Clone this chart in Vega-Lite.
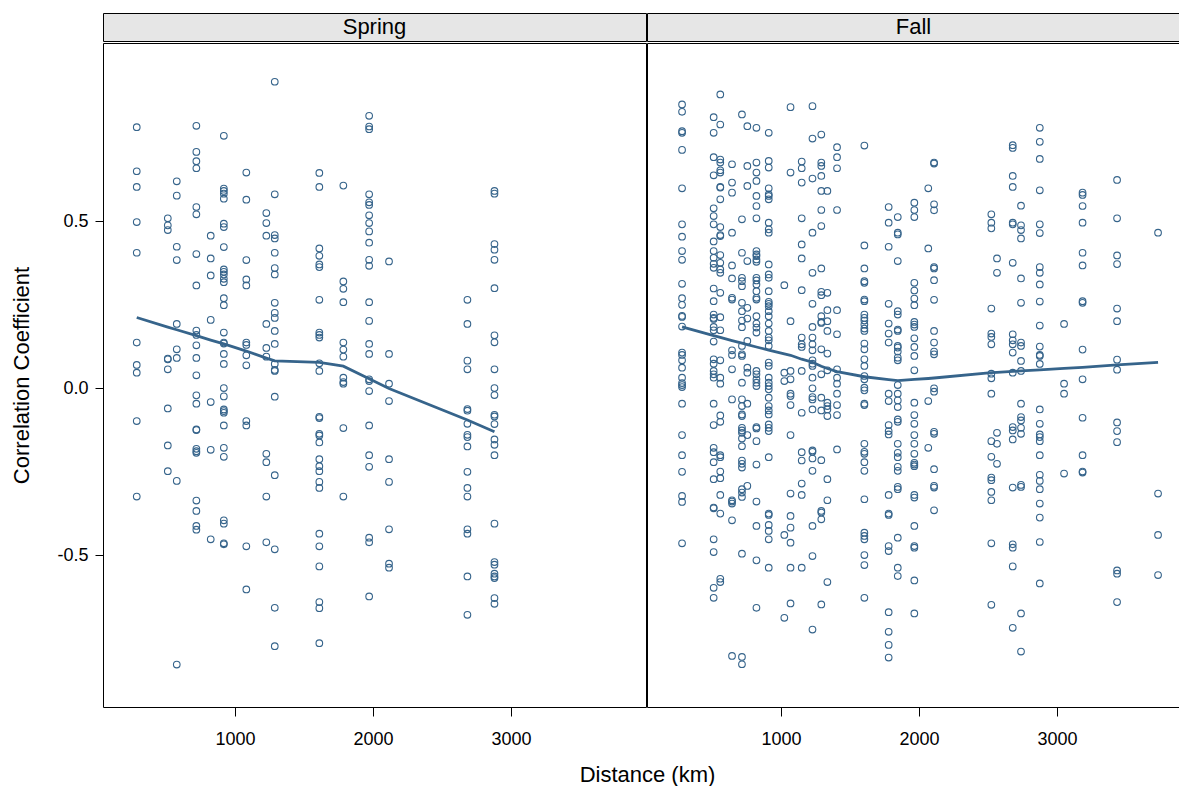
{
  "$schema": "https://vega.github.io/schema/vega-lite/v6.json",
  "background": "white",
  "padding": {"left": 10, "top": 12, "right": 0, "bottom": 0},
  "title": {"text": "Distance (km)", "orient": "bottom", "anchor": "middle", "frame": "bounds", "fontSize": 22, "fontWeight": "normal", "font": "Liberation Sans", "color": "black", "offset": 16, "dx": 52},
  "config": {
    "font": "Liberation Sans",
    "view": {"stroke": "black", "strokeWidth": 1},
    "axis": {"labelFont": "Liberation Sans", "labelFontSize": 18, "labelColor": "black", "tickColor": "black", "tickSize": 9, "labelPadding": 14, "domain": false, "grid": false, "titleFont": "Liberation Sans", "titleFontSize": 22, "titleFontWeight": "normal", "titleColor": "black"}
  },
  "datasets": {
    "spring": [
      {"km":288,"r":0.781},{"km":288,"r":0.649},{"km":288,"r":0.602},{"km":288,"r":0.497},{"km":288,"r":0.405},{"km":288,"r":0.136},{"km":288,"r":0.069},{"km":288,"r":0.046},{"km":288,"r":-0.099},{"km":288,"r":-0.325},
      {"km":513,"r":0.508},{"km":513,"r":0.487},{"km":513,"r":0.473},{"km":513,"r":0.088},{"km":513,"r":0.086},{"km":513,"r":0.056},{"km":513,"r":-0.061},{"km":513,"r":-0.172},{"km":513,"r":-0.249},
      {"km":578,"r":0.619},{"km":578,"r":0.576},{"km":578,"r":0.423},{"km":578,"r":0.383},{"km":578,"r":0.192},{"km":578,"r":0.116},{"km":578,"r":0.090},{"km":578,"r":-0.278},{"km":578,"r":-0.828},
      {"km":720,"r":0.785},{"km":720,"r":0.707},{"km":720,"r":0.679},{"km":720,"r":0.658},{"km":720,"r":0.542},{"km":720,"r":0.520},{"km":720,"r":0.401},{"km":720,"r":0.307},{"km":720,"r":0.172},{"km":720,"r":0.159},{"km":720,"r":0.128},{"km":720,"r":0.090},{"km":720,"r":0.038},{"km":720,"r":-0.022},{"km":720,"r":-0.047},{"km":720,"r":-0.124},{"km":720,"r":-0.126},{"km":720,"r":-0.182},{"km":720,"r":-0.189},{"km":720,"r":-0.194},{"km":720,"r":-0.337},{"km":720,"r":-0.368},{"km":720,"r":-0.413},{"km":720,"r":-0.424},
      {"km":824,"r":0.456},{"km":824,"r":0.388},{"km":824,"r":0.337},{"km":824,"r":0.204},{"km":824,"r":-0.042},{"km":824,"r":-0.185},{"km":824,"r":-0.453},
      {"km":919,"r":0.755},{"km":919,"r":0.597},{"km":919,"r":0.590},{"km":919,"r":0.582},{"km":919,"r":0.567},{"km":919,"r":0.492},{"km":919,"r":0.482},{"km":919,"r":0.422},{"km":919,"r":0.355},{"km":919,"r":0.348},{"km":919,"r":0.340},{"km":919,"r":0.327},{"km":919,"r":0.317},{"km":919,"r":0.269},{"km":919,"r":0.248},{"km":919,"r":0.166},{"km":919,"r":0.136},{"km":919,"r":0.133},{"km":919,"r":0.102},{"km":919,"r":0.072},{"km":919,"r":0.0},{"km":919,"r":-0.025},{"km":919,"r":-0.064},{"km":919,"r":-0.069},{"km":919,"r":-0.074},{"km":919,"r":-0.112},{"km":919,"r":-0.179},{"km":919,"r":-0.206},{"km":919,"r":-0.396},{"km":919,"r":-0.406},{"km":919,"r":-0.465},{"km":919,"r":-0.468},
      {"km":1082,"r":0.645},{"km":1082,"r":0.564},{"km":1082,"r":0.383},{"km":1082,"r":0.325},{"km":1082,"r":0.307},{"km":1082,"r":0.136},{"km":1082,"r":0.129},{"km":1082,"r":0.098},{"km":1082,"r":0.068},{"km":1082,"r":-0.099},{"km":1082,"r":-0.112},{"km":1082,"r":-0.474},{"km":1082,"r":-0.603},
      {"km":1227,"r":0.524},{"km":1227,"r":0.494},{"km":1227,"r":0.456},{"km":1227,"r":0.192},{"km":1227,"r":0.120},{"km":1227,"r":0.094},{"km":1227,"r":-0.197},{"km":1227,"r":-0.222},{"km":1227,"r":-0.325},{"km":1227,"r":-0.462},
      {"km":1288,"r":0.917},{"km":1288,"r":0.580},{"km":1288,"r":0.458},{"km":1288,"r":0.448},{"km":1288,"r":0.405},{"km":1288,"r":0.359},{"km":1288,"r":0.340},{"km":1288,"r":0.255},{"km":1288,"r":0.225},{"km":1288,"r":0.210},{"km":1288,"r":0.171},{"km":1288,"r":0.132},{"km":1288,"r":0.072},{"km":1288,"r":0.054},{"km":1288,"r":0.051},{"km":1288,"r":-0.026},{"km":1288,"r":-0.261},{"km":1288,"r":-0.483},{"km":1288,"r":-0.658},{"km":1288,"r":-0.773},
      {"km":1611,"r":0.644},{"km":1611,"r":0.602},{"km":1611,"r":0.418},{"km":1611,"r":0.396},{"km":1611,"r":0.370},{"km":1611,"r":0.362},{"km":1611,"r":0.264},{"km":1611,"r":0.166},{"km":1611,"r":0.159},{"km":1611,"r":0.151},{"km":1611,"r":0.074},{"km":1611,"r":0.051},{"km":1611,"r":-0.086},{"km":1611,"r":-0.090},{"km":1611,"r":-0.137},{"km":1611,"r":-0.142},{"km":1611,"r":-0.163},{"km":1611,"r":-0.213},{"km":1611,"r":-0.234},{"km":1611,"r":-0.249},{"km":1611,"r":-0.281},{"km":1611,"r":-0.299},{"km":1611,"r":-0.436},{"km":1611,"r":-0.474},{"km":1611,"r":-0.534},{"km":1611,"r":-0.641},{"km":1611,"r":-0.659},{"km":1611,"r":-0.764},
      {"km":1785,"r":0.606},{"km":1785,"r":0.319},{"km":1785,"r":0.297},{"km":1785,"r":0.257},{"km":1785,"r":0.136},{"km":1785,"r":0.115},{"km":1785,"r":0.094},{"km":1785,"r":0.031},{"km":1785,"r":0.018},{"km":1785,"r":0.013},{"km":1785,"r":-0.120},{"km":1785,"r":-0.325},
      {"km":1972,"r":0.815},{"km":1972,"r":0.783},{"km":1972,"r":0.775},{"km":1972,"r":0.580},{"km":1972,"r":0.556},{"km":1972,"r":0.548},{"km":1972,"r":0.517},{"km":1972,"r":0.494},{"km":1972,"r":0.469},{"km":1972,"r":0.435},{"km":1972,"r":0.384},{"km":1972,"r":0.366},{"km":1972,"r":0.257},{"km":1972,"r":0.201},{"km":1972,"r":0.132},{"km":1972,"r":0.102},{"km":1972,"r":0.026},{"km":1972,"r":0.021},{"km":1972,"r":-0.009},{"km":1972,"r":-0.112},{"km":1972,"r":-0.201},{"km":1972,"r":-0.236},{"km":1972,"r":-0.448},{"km":1972,"r":-0.462},{"km":1972,"r":-0.624},
      {"km":2116,"r":0.379},{"km":2116,"r":0.102},{"km":2116,"r":0.013},{"km":2116,"r":-0.039},{"km":2116,"r":-0.213},{"km":2116,"r":-0.281},{"km":2116,"r":-0.423},{"km":2116,"r":-0.526},{"km":2116,"r":-0.538},
      {"km":2684,"r":0.264},{"km":2684,"r":0.192},{"km":2684,"r":0.082},{"km":2684,"r":0.056},{"km":2684,"r":-0.063},{"km":2684,"r":-0.068},{"km":2684,"r":-0.107},{"km":2684,"r":-0.140},{"km":2684,"r":-0.147},{"km":2684,"r":-0.175},{"km":2684,"r":-0.251},{"km":2684,"r":-0.299},{"km":2684,"r":-0.325},{"km":2684,"r":-0.423},{"km":2684,"r":-0.436},{"km":2684,"r":-0.564},{"km":2684,"r":-0.679},
      {"km":2880,"r":0.590},{"km":2880,"r":0.582},{"km":2880,"r":0.431},{"km":2880,"r":0.414},{"km":2880,"r":0.384},{"km":2880,"r":0.299},{"km":2880,"r":0.158},{"km":2880,"r":0.137},{"km":2880,"r":0.056},{"km":2880,"r":0.0},{"km":2880,"r":-0.021},{"km":2880,"r":-0.080},{"km":2880,"r":-0.085},{"km":2880,"r":-0.108},{"km":2880,"r":-0.154},{"km":2880,"r":-0.170},{"km":2880,"r":-0.201},{"km":2880,"r":-0.406},{"km":2880,"r":-0.521},{"km":2880,"r":-0.529},{"km":2880,"r":-0.556},{"km":2880,"r":-0.564},{"km":2880,"r":-0.569},{"km":2880,"r":-0.629},{"km":2880,"r":-0.646}
    ],
    "fall": [
      {"km":283,"r":0.849},{"km":283,"r":0.827},{"km":283,"r":0.769},{"km":283,"r":0.764},{"km":283,"r":0.713},{"km":283,"r":0.598},{"km":283,"r":0.490},{"km":283,"r":0.453},{"km":283,"r":0.410},{"km":283,"r":0.384},{"km":283,"r":0.312},{"km":283,"r":0.269},{"km":283,"r":0.249},{"km":283,"r":0.216},{"km":283,"r":0.213},{"km":283,"r":0.184},{"km":283,"r":0.106},{"km":283,"r":0.099},{"km":283,"r":0.083},{"km":283,"r":0.061},{"km":283,"r":0.031},{"km":283,"r":0.015},{"km":283,"r":0.009},{"km":283,"r":0.003},{"km":283,"r":-0.047},{"km":283,"r":-0.141},{"km":283,"r":-0.201},{"km":283,"r":-0.251},{"km":283,"r":-0.323},{"km":283,"r":-0.341},{"km":283,"r":-0.465},
      {"km":512,"r":0.811},{"km":512,"r":0.764},{"km":512,"r":0.691},{"km":512,"r":0.637},{"km":512,"r":0.538},{"km":512,"r":0.515},{"km":512,"r":0.490},{"km":512,"r":0.439},{"km":512,"r":0.410},{"km":512,"r":0.390},{"km":512,"r":0.372},{"km":512,"r":0.360},{"km":512,"r":0.298},{"km":512,"r":0.260},{"km":512,"r":0.220},{"km":512,"r":0.210},{"km":512,"r":0.207},{"km":512,"r":0.183},{"km":512,"r":0.173},{"km":512,"r":0.139},{"km":512,"r":0.086},{"km":512,"r":0.073},{"km":512,"r":0.051},{"km":512,"r":0.041},{"km":512,"r":0.031},{"km":512,"r":-0.047},{"km":512,"r":-0.111},{"km":512,"r":-0.179},{"km":512,"r":-0.192},{"km":512,"r":-0.222},{"km":512,"r":-0.273},{"km":512,"r":-0.358},{"km":512,"r":-0.360},{"km":512,"r":-0.453},{"km":512,"r":-0.491},{"km":512,"r":-0.598},{"km":512,"r":-0.628},
      {"km":560,"r":0.879},{"km":560,"r":0.789},{"km":560,"r":0.684},{"km":560,"r":0.675},{"km":560,"r":0.652},{"km":560,"r":0.645},{"km":560,"r":0.602},{"km":560,"r":0.600},{"km":560,"r":0.565},{"km":560,"r":0.482},{"km":560,"r":0.458},{"km":560,"r":0.455},{"km":560,"r":0.398},{"km":560,"r":0.375},{"km":560,"r":0.355},{"km":560,"r":0.345},{"km":560,"r":0.285},{"km":560,"r":0.212},{"km":560,"r":0.173},{"km":560,"r":0.083},{"km":560,"r":0.031},{"km":560,"r":0.013},{"km":560,"r":-0.082},{"km":560,"r":-0.101},{"km":560,"r":-0.201},{"km":560,"r":-0.207},{"km":560,"r":-0.250},{"km":560,"r":-0.270},{"km":560,"r":-0.320},{"km":560,"r":-0.376},{"km":560,"r":-0.571},{"km":560,"r":-0.581},
      {"km":645,"r":0.670},{"km":645,"r":0.615},{"km":645,"r":0.585},{"km":645,"r":0.465},{"km":645,"r":0.367},{"km":645,"r":0.328},{"km":645,"r":0.270},{"km":645,"r":0.265},{"km":645,"r":0.113},{"km":645,"r":0.099},{"km":645,"r":0.056},{"km":645,"r":-0.034},{"km":645,"r":-0.336},{"km":645,"r":-0.340},{"km":645,"r":-0.346},{"km":645,"r":-0.396},{"km":645,"r":-0.802},
      {"km":717,"r":0.819},{"km":717,"r":0.505},{"km":717,"r":0.405},{"km":717,"r":0.330},{"km":717,"r":0.320},{"km":717,"r":0.305},{"km":717,"r":0.255},{"km":717,"r":0.230},{"km":717,"r":0.202},{"km":717,"r":0.182},{"km":717,"r":0.126},{"km":717,"r":0.101},{"km":717,"r":0.096},{"km":717,"r":0.016},{"km":717,"r":-0.034},{"km":717,"r":-0.054},{"km":717,"r":-0.079},{"km":717,"r":-0.084},{"km":717,"r":-0.119},{"km":717,"r":-0.127},{"km":717,"r":-0.134},{"km":717,"r":-0.151},{"km":717,"r":-0.174},{"km":717,"r":-0.217},{"km":717,"r":-0.227},{"km":717,"r":-0.238},{"km":717,"r":-0.303},{"km":717,"r":-0.313},{"km":717,"r":-0.326},{"km":717,"r":-0.496},{"km":717,"r":-0.805},{"km":717,"r":-0.827},
      {"km":756,"r":0.784},{"km":756,"r":0.665},{"km":756,"r":0.605},{"km":756,"r":0.380},{"km":756,"r":0.240},{"km":756,"r":0.208},{"km":756,"r":0.141},{"km":756,"r":0.061},{"km":756,"r":0.046},{"km":756,"r":-0.047},{"km":756,"r":-0.141},{"km":756,"r":-0.293},
      {"km":822,"r":0.779},{"km":822,"r":0.675},{"km":822,"r":0.645},{"km":822,"r":0.620},{"km":822,"r":0.575},{"km":822,"r":0.545},{"km":822,"r":0.508},{"km":822,"r":0.410},{"km":822,"r":0.400},{"km":822,"r":0.395},{"km":822,"r":0.385},{"km":822,"r":0.378},{"km":822,"r":0.330},{"km":822,"r":0.322},{"km":822,"r":0.310},{"km":822,"r":0.290},{"km":822,"r":0.270},{"km":822,"r":0.265},{"km":822,"r":0.215},{"km":822,"r":0.193},{"km":822,"r":0.181},{"km":822,"r":0.166},{"km":822,"r":0.051},{"km":822,"r":0.041},{"km":822,"r":0.026},{"km":822,"r":0.016},{"km":822,"r":0.006},{"km":822,"r":-0.117},{"km":822,"r":-0.121},{"km":822,"r":-0.159},{"km":822,"r":-0.229},{"km":822,"r":-0.340},{"km":822,"r":-0.413},{"km":822,"r":-0.516},{"km":822,"r":-0.658},
      {"km":911,"r":0.764},{"km":911,"r":0.680},{"km":911,"r":0.660},{"km":911,"r":0.598},{"km":911,"r":0.580},{"km":911,"r":0.575},{"km":911,"r":0.565},{"km":911,"r":0.495},{"km":911,"r":0.475},{"km":911,"r":0.465},{"km":911,"r":0.370},{"km":911,"r":0.340},{"km":911,"r":0.330},{"km":911,"r":0.290},{"km":911,"r":0.258},{"km":911,"r":0.252},{"km":911,"r":0.245},{"km":911,"r":0.230},{"km":911,"r":0.215},{"km":911,"r":0.193},{"km":911,"r":0.171},{"km":911,"r":0.151},{"km":911,"r":0.143},{"km":911,"r":0.126},{"km":911,"r":0.076},{"km":911,"r":0.066},{"km":911,"r":0.031},{"km":911,"r":0.016},{"km":911,"r":0.006},{"km":911,"r":-0.004},{"km":911,"r":-0.029},{"km":911,"r":-0.054},{"km":911,"r":-0.067},{"km":911,"r":-0.079},{"km":911,"r":-0.109},{"km":911,"r":-0.119},{"km":911,"r":-0.129},{"km":911,"r":-0.207},{"km":911,"r":-0.376},{"km":911,"r":-0.380},{"km":911,"r":-0.410},{"km":911,"r":-0.428},{"km":911,"r":-0.453},{"km":911,"r":-0.538},
      {"km":1024,"r":0.308},{"km":1024,"r":0.046},{"km":1024,"r":0.021},{"km":1024,"r":-0.440},{"km":1024,"r":-0.688},
      {"km":1069,"r":0.841},{"km":1069,"r":0.645},{"km":1069,"r":0.200},{"km":1069,"r":0.051},{"km":1069,"r":0.026},{"km":1069,"r":-0.017},{"km":1069,"r":-0.024},{"km":1069,"r":-0.051},{"km":1069,"r":-0.141},{"km":1069,"r":-0.316},{"km":1069,"r":-0.383},{"km":1069,"r":-0.418},{"km":1069,"r":-0.463},{"km":1069,"r":-0.538},{"km":1069,"r":-0.645},
      {"km":1150,"r":0.678},{"km":1150,"r":0.658},{"km":1150,"r":0.615},{"km":1150,"r":0.508},{"km":1150,"r":0.430},{"km":1150,"r":0.388},{"km":1150,"r":0.293},{"km":1150,"r":0.151},{"km":1150,"r":0.131},{"km":1150,"r":0.123},{"km":1150,"r":0.051},{"km":1150,"r":-0.074},{"km":1150,"r":-0.192},{"km":1150,"r":-0.217},{"km":1150,"r":-0.286},{"km":1150,"r":-0.320},{"km":1150,"r":-0.538},
      {"km":1228,"r":0.844},{"km":1228,"r":0.747},{"km":1228,"r":0.627},{"km":1228,"r":0.465},{"km":1228,"r":0.345},{"km":1228,"r":0.252},{"km":1228,"r":0.183},{"km":1228,"r":0.151},{"km":1228,"r":0.131},{"km":1228,"r":0.113},{"km":1228,"r":0.083},{"km":1228,"r":0.073},{"km":1228,"r":0.066},{"km":1228,"r":0.031},{"km":1228,"r":-0.001},{"km":1228,"r":-0.027},{"km":1228,"r":-0.034},{"km":1228,"r":-0.064},{"km":1228,"r":-0.187},{"km":1228,"r":-0.191},{"km":1228,"r":-0.211},{"km":1228,"r":-0.248},{"km":1228,"r":-0.413},{"km":1228,"r":-0.503},{"km":1228,"r":-0.723},
      {"km":1292,"r":0.759},{"km":1292,"r":0.675},{"km":1292,"r":0.665},{"km":1292,"r":0.635},{"km":1292,"r":0.590},{"km":1292,"r":0.533},{"km":1292,"r":0.485},{"km":1292,"r":0.358},{"km":1292,"r":0.288},{"km":1292,"r":0.278},{"km":1292,"r":0.215},{"km":1292,"r":0.198},{"km":1292,"r":0.195},{"km":1292,"r":0.116},{"km":1292,"r":0.041},{"km":1292,"r":-0.029},{"km":1292,"r":-0.067},{"km":1292,"r":-0.216},{"km":1292,"r":-0.368},{"km":1292,"r":-0.373},{"km":1292,"r":-0.393},{"km":1292,"r":-0.648},
      {"km":1336,"r":0.590},{"km":1336,"r":0.285},{"km":1336,"r":0.233},{"km":1336,"r":0.200},{"km":1336,"r":0.171},{"km":1336,"r":0.103},{"km":1336,"r":0.053},{"km":1336,"r":-0.044},{"km":1336,"r":-0.054},{"km":1336,"r":-0.064},{"km":1336,"r":-0.084},{"km":1336,"r":-0.273},{"km":1336,"r":-0.336},{"km":1336,"r":-0.581},
      {"km":1406,"r":0.721},{"km":1406,"r":0.691},{"km":1406,"r":0.658},{"km":1406,"r":0.533},{"km":1406,"r":0.233},{"km":1406,"r":0.161},{"km":1406,"r":0.056},{"km":1406,"r":0.031},{"km":1406,"r":0.013},{"km":1406,"r":-0.017},{"km":1406,"r":-0.051},{"km":1406,"r":-0.081},{"km":1406,"r":-0.184},
      {"km":1604,"r":0.726},{"km":1604,"r":0.427},{"km":1604,"r":0.358},{"km":1604,"r":0.320},{"km":1604,"r":0.315},{"km":1604,"r":0.265},{"km":1604,"r":0.260},{"km":1604,"r":0.220},{"km":1604,"r":0.210},{"km":1604,"r":0.202},{"km":1604,"r":0.190},{"km":1604,"r":0.178},{"km":1604,"r":0.171},{"km":1604,"r":0.133},{"km":1604,"r":0.116},{"km":1604,"r":0.086},{"km":1604,"r":0.066},{"km":1604,"r":0.036},{"km":1604,"r":0.026},{"km":1604,"r":0.001},{"km":1604,"r":-0.007},{"km":1604,"r":-0.047},{"km":1604,"r":-0.051},{"km":1604,"r":-0.167},{"km":1604,"r":-0.191},{"km":1604,"r":-0.197},{"km":1604,"r":-0.222},{"km":1604,"r":-0.248},{"km":1604,"r":-0.333},{"km":1604,"r":-0.433},{"km":1604,"r":-0.443},{"km":1604,"r":-0.453},{"km":1604,"r":-0.500},{"km":1604,"r":-0.530},{"km":1604,"r":-0.628},
      {"km":1780,"r":0.542},{"km":1780,"r":0.495},{"km":1780,"r":0.423},{"km":1780,"r":0.252},{"km":1780,"r":0.193},{"km":1780,"r":0.163},{"km":1780,"r":0.136},{"km":1780,"r":-0.017},{"km":1780,"r":-0.039},{"km":1780,"r":-0.111},{"km":1780,"r":-0.129},{"km":1780,"r":-0.139},{"km":1780,"r":-0.320},{"km":1780,"r":-0.376},{"km":1780,"r":-0.380},{"km":1780,"r":-0.473},{"km":1780,"r":-0.488},{"km":1780,"r":-0.671},{"km":1780,"r":-0.730},{"km":1780,"r":-0.769},{"km":1780,"r":-0.807},
      {"km":1846,"r":0.512},{"km":1846,"r":0.465},{"km":1846,"r":0.460},{"km":1846,"r":0.380},{"km":1846,"r":0.230},{"km":1846,"r":0.220},{"km":1846,"r":0.175},{"km":1846,"r":0.171},{"km":1846,"r":0.126},{"km":1846,"r":0.121},{"km":1846,"r":0.109},{"km":1846,"r":0.091},{"km":1846,"r":0.083},{"km":1846,"r":0.009},{"km":1846,"r":-0.017},{"km":1846,"r":-0.037},{"km":1846,"r":-0.057},{"km":1846,"r":-0.094},{"km":1846,"r":-0.101},{"km":1846,"r":-0.167},{"km":1846,"r":-0.194},{"km":1846,"r":-0.207},{"km":1846,"r":-0.236},{"km":1846,"r":-0.248},{"km":1846,"r":-0.296},{"km":1846,"r":-0.303},{"km":1846,"r":-0.448},{"km":1846,"r":-0.538},{"km":1846,"r":-0.563},
      {"km":1966,"r":0.555},{"km":1966,"r":0.533},{"km":1966,"r":0.512},{"km":1966,"r":0.315},{"km":1966,"r":0.292},{"km":1966,"r":0.268},{"km":1966,"r":0.248},{"km":1966,"r":0.198},{"km":1966,"r":0.190},{"km":1966,"r":0.183},{"km":1966,"r":0.149},{"km":1966,"r":0.123},{"km":1966,"r":0.096},{"km":1966,"r":0.053},{"km":1966,"r":-0.044},{"km":1966,"r":-0.081},{"km":1966,"r":-0.107},{"km":1966,"r":-0.141},{"km":1966,"r":-0.167},{"km":1966,"r":-0.197},{"km":1966,"r":-0.224},{"km":1966,"r":-0.229},{"km":1966,"r":-0.234},{"km":1966,"r":-0.320},{"km":1966,"r":-0.328},{"km":1966,"r":-0.413},{"km":1966,"r":-0.473},{"km":1966,"r":-0.478},{"km":1966,"r":-0.576},{"km":1966,"r":-0.675},
      {"km":2067,"r":0.598},{"km":2067,"r":0.418},{"km":2067,"r":-0.039},{"km":2067,"r":-0.179},
      {"km":2109,"r":0.675},{"km":2109,"r":0.672},{"km":2109,"r":0.550},{"km":2109,"r":0.532},{"km":2109,"r":0.362},{"km":2109,"r":0.358},{"km":2109,"r":0.323},{"km":2109,"r":0.264},{"km":2109,"r":0.171},{"km":2109,"r":0.136},{"km":2109,"r":0.109},{"km":2109,"r":0.101},{"km":2109,"r":-0.001},{"km":2109,"r":-0.011},{"km":2109,"r":-0.131},{"km":2109,"r":-0.137},{"km":2109,"r":-0.243},{"km":2109,"r":-0.293},{"km":2109,"r":-0.298},{"km":2109,"r":-0.366},
      {"km":2524,"r":0.520},{"km":2524,"r":0.495},{"km":2524,"r":0.478},{"km":2524,"r":0.238},{"km":2524,"r":0.163},{"km":2524,"r":0.153},{"km":2524,"r":0.131},{"km":2524,"r":0.043},{"km":2524,"r":0.029},{"km":2524,"r":-0.017},{"km":2524,"r":-0.159},{"km":2524,"r":-0.206},{"km":2524,"r":-0.268},{"km":2524,"r":-0.276},{"km":2524,"r":-0.311},{"km":2524,"r":-0.336},{"km":2524,"r":-0.465},{"km":2524,"r":-0.649},
      {"km":2565,"r":0.388},{"km":2565,"r":0.345},{"km":2565,"r":-0.134},{"km":2565,"r":-0.167},{"km":2565,"r":-0.227},
      {"km":2679,"r":0.727},{"km":2679,"r":0.719},{"km":2679,"r":0.635},{"km":2679,"r":0.602},{"km":2679,"r":0.495},{"km":2679,"r":0.490},{"km":2679,"r":0.375},{"km":2679,"r":0.161},{"km":2679,"r":0.143},{"km":2679,"r":0.131},{"km":2679,"r":0.106},{"km":2679,"r":0.046},{"km":2679,"r":-0.117},{"km":2679,"r":-0.127},{"km":2679,"r":-0.154},{"km":2679,"r":-0.298},{"km":2679,"r":-0.468},{"km":2679,"r":-0.478},{"km":2679,"r":-0.534},{"km":2679,"r":-0.718},
      {"km":2739,"r":0.546},{"km":2739,"r":0.487},{"km":2739,"r":0.473},{"km":2739,"r":0.448},{"km":2739,"r":0.328},{"km":2739,"r":0.255},{"km":2739,"r":0.136},{"km":2739,"r":0.126},{"km":2739,"r":0.081},{"km":2739,"r":0.051},{"km":2739,"r":-0.047},{"km":2739,"r":-0.087},{"km":2739,"r":-0.097},{"km":2739,"r":-0.119},{"km":2739,"r":-0.137},{"km":2739,"r":-0.290},{"km":2739,"r":-0.296},{"km":2739,"r":-0.675},{"km":2739,"r":-0.789},
      {"km":2875,"r":0.779},{"km":2875,"r":0.737},{"km":2875,"r":0.686},{"km":2875,"r":0.592},{"km":2875,"r":0.490},{"km":2875,"r":0.464},{"km":2875,"r":0.362},{"km":2875,"r":0.345},{"km":2875,"r":0.310},{"km":2875,"r":0.259},{"km":2875,"r":0.187},{"km":2875,"r":0.124},{"km":2875,"r":0.099},{"km":2875,"r":0.096},{"km":2875,"r":0.072},{"km":2875,"r":-0.064},{"km":2875,"r":-0.107},{"km":2875,"r":-0.139},{"km":2875,"r":-0.147},{"km":2875,"r":-0.159},{"km":2875,"r":-0.201},{"km":2875,"r":-0.260},{"km":2875,"r":-0.278},{"km":2875,"r":-0.303},{"km":2875,"r":-0.346},{"km":2875,"r":-0.388},{"km":2875,"r":-0.461},{"km":2875,"r":-0.585},
      {"km":3051,"r":0.192},{"km":3051,"r":0.013},{"km":3051,"r":-0.017},{"km":3051,"r":-0.256},
      {"km":3185,"r":0.585},{"km":3185,"r":0.578},{"km":3185,"r":0.545},{"km":3185,"r":0.495},{"km":3185,"r":0.405},{"km":3185,"r":0.367},{"km":3185,"r":0.260},{"km":3185,"r":0.255},{"km":3185,"r":0.115},{"km":3185,"r":0.026},{"km":3185,"r":-0.089},{"km":3185,"r":-0.201},{"km":3185,"r":-0.250},{"km":3185,"r":-0.253},
      {"km":3435,"r":0.623},{"km":3435,"r":0.508},{"km":3435,"r":0.397},{"km":3435,"r":0.371},{"km":3435,"r":0.238},{"km":3435,"r":0.200},{"km":3435,"r":0.085},{"km":3435,"r":0.055},{"km":3435,"r":-0.103},{"km":3435,"r":-0.129},{"km":3435,"r":-0.162},{"km":3435,"r":-0.546},{"km":3435,"r":-0.556},{"km":3435,"r":-0.641},
      {"km":3732,"r":0.465},{"km":3732,"r":-0.316},{"km":3732,"r":-0.440},{"km":3732,"r":-0.560}
    ]
  },
  "spacing": -4,
  "hconcat": [
    {
      "spacing": 0,
      "vconcat": [
        {
          "width": 543, "height": 28,
          "view": {"fill": "#e6e6e6", "stroke": "black", "strokeWidth": 1},
          "data": {"values": [{"season": "Spring"}]},
          "mark": {"type": "text", "fontSize": 22, "font": "Liberation Sans", "color": "black", "baseline": "middle", "align": "center"},
          "encoding": {"text": {"field": "season"}}
        },
        {
          "width": 543, "height": 664,
          "data": {"name": "spring"},
          "layer": [
            {
              "mark": {"type": "point", "shape": "circle", "filled": false, "size": 44, "strokeWidth": 1.1, "color": "#36648b", "opacity": 1},
              "encoding": {
                "x": {"field": "km", "type": "quantitative", "scale": {"domain": [43.5, 3978], "nice": false, "zero": false}, "axis": {"values": [1000, 2000, 3000], "format": "d", "title": null}},
                "y": {"field": "r", "type": "quantitative", "scale": {"domain": [-0.955, 1.033], "nice": false, "zero": false}, "axis": {"values": [-0.5, 0, 0.5], "labelExpr": "replace(format(datum.value, '.1f'), '\u2212', '-')", "title": "Correlation Coefficient", "tickSize": 8, "labelPadding": 7, "titlePadding": 23}}
              }
            },
            {
              "transform": [{"loess": "r", "on": "km", "bandwidth": 0.667}],
              "mark": {"type": "line", "color": "#36648b", "strokeWidth": 2.8},
              "encoding": {
                "x": {"field": "km", "type": "quantitative"},
                "y": {"field": "r", "type": "quantitative"}
              }
            }
          ]
        }
      ]
    },
    {
      "spacing": 0,
      "vconcat": [
        {
          "width": 533, "height": 28,
          "view": {"fill": "#e6e6e6", "stroke": "black", "strokeWidth": 1},
          "data": {"values": [{"season": "Fall"}]},
          "mark": {"type": "text", "fontSize": 22, "font": "Liberation Sans", "color": "black", "baseline": "middle", "align": "center"},
          "encoding": {"text": {"field": "season"}}
        },
        {
          "width": 533, "height": 664,
          "data": {"name": "fall"},
          "layer": [
            {
              "mark": {"type": "point", "shape": "circle", "filled": false, "size": 44, "strokeWidth": 1.1, "color": "#36648b", "opacity": 1},
              "encoding": {
                "x": {"field": "km", "type": "quantitative", "scale": {"domain": [29, 3891], "nice": false, "zero": false}, "axis": {"values": [1000, 2000, 3000], "format": "d", "title": null}},
                "y": {"field": "r", "type": "quantitative", "scale": {"domain": [-0.955, 1.033], "nice": false, "zero": false}, "axis": null}
              }
            },
            {
              "transform": [{"loess": "r", "on": "km", "bandwidth": 0.667}],
              "mark": {"type": "line", "color": "#36648b", "strokeWidth": 2.8},
              "encoding": {
                "x": {"field": "km", "type": "quantitative"},
                "y": {"field": "r", "type": "quantitative"}
              }
            }
          ]
        }
      ]
    }
  ]
}
